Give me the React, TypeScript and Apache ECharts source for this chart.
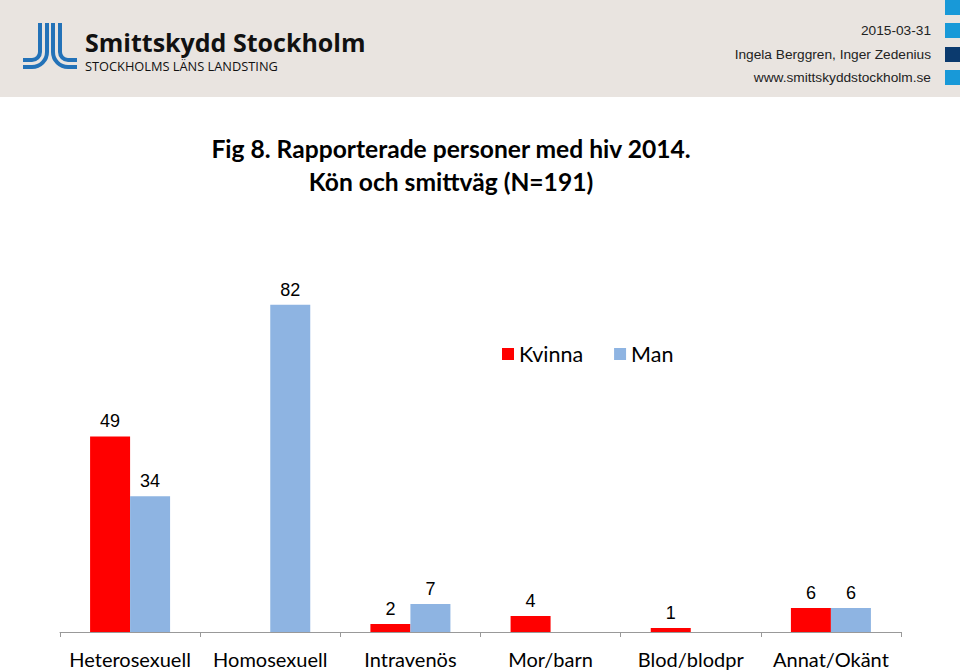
import React, { useEffect, useRef } from "react";
import * as echarts from "echarts";

const categories = ["Heterosexuell", "Homosexuell", "Intravenös", "Mor/barn", "Blod/blodpr", "Annat/Okänt"];
const kvinna = [49, 0, 2, 4, 1, 6];
const man = [34, 82, 7, 0, 0, 6];
const seriesNames = ["Kvinna", "Man"];
const titleLines = ["Fig 8. Rapporterade personer med hiv 2014.", "Kön och smittväg (N=191)"];
const headerRight = ["2015-03-31", "Ingela Berggren, Inger Zedenius", "www.smittskyddstockholm.se"];

const JL_PATH =
  "M40 23 L40 52 A8 8 0 0 1 32 60 L23 60 " +
  "M47 23 L47 52 A15 15 0 0 1 32 67 L23 67 " +
  "M53 23 L53 52 A15 15 0 0 0 68 67 L77 67 " +
  "M60 23 L60 52 A8 8 0 0 0 68 60 L77 60";

let registered = false;

export default function App() {
  const ref = useRef<HTMLDivElement>(null);
  useEffect(() => {
    if (!registered) {
      echarts.graphic.registerShape("logo", echarts.graphic.extendPath(JL_PATH, {}) as any);
      registered = true;
    }
    const chart = echarts.init(ref.current!, null, { renderer: "svg" });
    const labelFmt = (p: any) => (p.value ? String(p.value) : "");
    const squares = [
      { y: 0, c: "#1899d8" },
      { y: 23, c: "#1899d8" },
      { y: 47, c: "#0b3a6e" },
      { y: 70, c: "#1899d8" },
    ];
    chart.setOption({
      animation: false,
      backgroundColor: "#ffffff",
      graphic: [
        { type: "rect", x: 0, y: 0, shape: { width: 960, height: 97 }, style: { fill: "#e9e4e0" }, z: 0 },
        ...squares.map((s) => ({
          type: "rect",
          x: 945,
          y: s.y,
          shape: { width: 15, height: 15 },
          style: { fill: s.c },
        })),
        {
          type: "logo",
          x: 0,
          y: 0,
          style: { stroke: "#2372b8", lineWidth: 4, fill: null },
        },
        {
          type: "text",
          x: 85,
          y: 41.5,
          style: {
            text: "Smittskydd Stockholm",
            font: "bold 25px 'Open Sans'",
            lineHeight: 22,
            fill: "#111",
            verticalAlign: "middle",
          },
        },
        {
          type: "text",
          x: 85,
          y: 66,
          style: {
            text: "STOCKHOLMS LÄNS LANDSTING",
            font: "12.8px 'Open Sans'",
            lineHeight: 12,
            fill: "#111",
            verticalAlign: "middle",
          },
        },
        ...headerRight.map((t, i) => ({
          type: "text",
          x: 931,
          y: [30, 54, 77][i],
          style: {
            text: t,
            font: "13.7px 'Liberation Sans'",
            fill: "#222",
            align: "right",
            verticalAlign: "middle",
          },
        })),
        ...titleLines.map((t, i) => ({
          type: "text",
          x: 451,
          y: [148, 181][i],
          style: {
            text: t,
            font: "bold 24.6px Lato",
            fill: "#000",
            align: "center",
            verticalAlign: "middle",
          },
        })),
      ],
      legend: {
        data: seriesNames,
        left: 497,
        top: 338,
        icon: "rect",
        itemWidth: 12,
        itemHeight: 12,
        itemGap: 31,
        textStyle: { fontFamily: "Lato", fontSize: 21.5, color: "#000" },
      },
      grid: { left: 60, right: 59, top: 233, bottom: 39, containLabel: false },
      xAxis: {
        type: "category",
        data: categories,
        axisLine: { lineStyle: { color: "#999999", width: 1 } },
        axisTick: { show: true, length: 5, lineStyle: { color: "#999999" } },
        axisLabel: { fontFamily: "Lato", fontSize: 20, color: "#000", margin: 17, interval: 0 },
      },
      yAxis: { type: "value", min: 0, max: 100, show: false, splitLine: { show: false } },
      series: [
        {
          name: seriesNames[0],
          type: "bar",
          data: kvinna,
          barWidth: 40,
          barGap: "0%",
          itemStyle: { color: "#ff0000" },
          label: { show: true, position: "top", distance: 6, formatter: labelFmt, fontFamily: "Liberation Sans", fontSize: 18, color: "#000" },
        },
        {
          name: seriesNames[1],
          type: "bar",
          data: man,
          barWidth: 40,
          barGap: "0%",
          itemStyle: { color: "#8eb4e2" },
          label: { show: true, position: "top", distance: 6, formatter: labelFmt, fontFamily: "Liberation Sans", fontSize: 18, color: "#000" },
        },
      ],
    });
    return () => chart.dispose();
  }, []);
  return <div ref={ref} style={{ position: "fixed", left: 0, top: 0, width: 960, height: 671 }} />;
}
